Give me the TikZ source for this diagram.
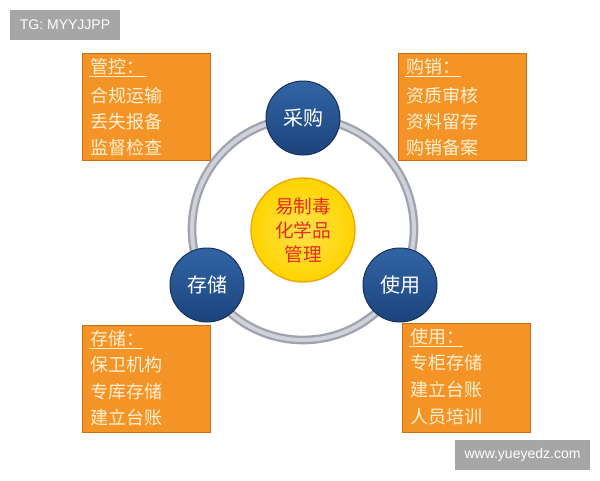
\documentclass[tikz,border=0pt]{standalone}
\usepackage{fontspec}
\setmainfont{Noto Sans CJK SC}
\newfontfamily\markfont{Liberation Sans}
\definecolor{boxorange}{RGB}{244,148,38}
\definecolor{boxedge}{RGB}{200,110,25}
\definecolor{boxtext}{RGB}{255,240,212}
\definecolor{discblue}{RGB}{28,68,125}
\definecolor{discblueup}{RGB}{50,100,165}
\definecolor{coreyellow}{RGB}{255,212,0}
\definecolor{coreedge}{RGB}{240,165,0}
\definecolor{corered}{RGB}{225,45,30}
\definecolor{ringgray}{RGB}{160,163,174}
\definecolor{ringlight}{RGB}{208,210,218}
\definecolor{markgray}{RGB}{166,166,166}

\tikzset{every picture/.style={line width=0.75pt}}
\tikzset{
  orangebox/.style={fill=boxorange, draw=boxedge, line width=0.75pt},
  boxline/.style={anchor=west, inner sep=0.75pt, text=boxtext, font=\fontsize{13.5}{16}\selectfont},
  bluedisc/.style={circle, minimum size=55.5pt, inner sep=0pt, draw=discblue!70!black, top color=discblueup, bottom color=discblue, text=white, font=\fontsize{15}{18}\selectfont},
  markbox/.style={fill=markgray, draw=none, text=white, font=\markfont\fontsize{10.5}{12}\selectfont}
}

\begin{document}
\begin{tikzpicture}[x=0.75pt,y=0.75pt,yscale=-1,xscale=1]
\useasboundingbox (0,0) rectangle (600,480);
\fill [white] (0,0) rectangle (600,480);

%Shape: Circle [id:ring] 
\draw [color=ringgray, line width=6.5pt] (303,229) circle (111);
\draw [color=ringlight, line width=3pt] (303,229) circle (111);

%Shape: Rectangle [id:controlbox] 
\draw [orangebox] (82,53) rectangle (210,160);
%Shape: Rectangle [id:purchasebox] 
\draw [orangebox] (398,53) rectangle (526,160);
%Shape: Rectangle [id:storebox] 
\draw [orangebox] (82,325) rectangle (210,432);
%Shape: Rectangle [id:usebox] 
\draw [orangebox] (402,323) rectangle (530,432);

%Shape: Circle [id:core] 
\node [circle, minimum size=78pt, inner sep=0pt, draw=coreedge, line width=1pt, inner color=coreyellow!70!white, outer color=coreyellow] (core) at (303,230) {};
%Shape: Circle [id:purchase] 
\node [bluedisc] (purchase) at (303,118) {采购};
%Shape: Circle [id:store] 
\node [bluedisc] (store) at (207,285) {存储};
%Shape: Circle [id:use] 
\node [bluedisc] (use) at (400,285) {使用};

% Text Node
\node [text=corered, align=center, font=\fontsize{14}{18}\selectfont] (coretext) at (core.center) {易制毒\\化学品\\管理};

% Text Node
\node [boxline] (gkTitle) at (89,67) {管控：};
\draw [color=boxtext] (gkTitle.south west) -- ++(58,0);
% Text Node
\node [boxline] (gkA) at (89,96) {合规运输};
% Text Node
\node [boxline] (gkB) at (89,122) {丢失报备};
% Text Node
\node [boxline] (gkC) at (89,148) {监督检查};

% Text Node
\node [boxline] (gxTitle) at (405,67) {购销：};
\draw [color=boxtext] (gxTitle.south west) -- ++(56,0);
% Text Node
\node [boxline] (gxA) at (405,96) {资质审核};
% Text Node
\node [boxline] (gxB) at (405,122) {资料留存};
% Text Node
\node [boxline] (gxC) at (405,148) {购销备案};

% Text Node
\node [boxline] (ccTitle) at (89,339) {存储：};
\draw [color=boxtext] (ccTitle.south west) -- ++(54,0);
% Text Node
\node [boxline] (ccA) at (89,365) {保卫机构};
% Text Node
\node [boxline] (ccB) at (89,392) {专库存储};
% Text Node
\node [boxline] (ccC) at (89,418) {建立台账};

% Text Node
\node [boxline] (syTitle) at (409,337) {使用：};
\draw [color=boxtext] (syTitle.south west) -- ++(54,0);
% Text Node
\node [boxline] (syA) at (409,363) {专柜存储};
% Text Node
\node [boxline] (syB) at (409,390) {建立台账};
% Text Node
\node [boxline] (syC) at (409,417) {人员培训};

% Text Node
\node [markbox, minimum width=82.5pt, minimum height=22.5pt, inner sep=0pt] (tgmark) at (65,25) {TG: MYYJJPP};
% Text Node
\node [markbox, minimum width=101.25pt, minimum height=22.5pt, inner sep=0pt] (webmark) at (522.5,455) {www.yueyedz.com};

\end{tikzpicture}
\end{document}
